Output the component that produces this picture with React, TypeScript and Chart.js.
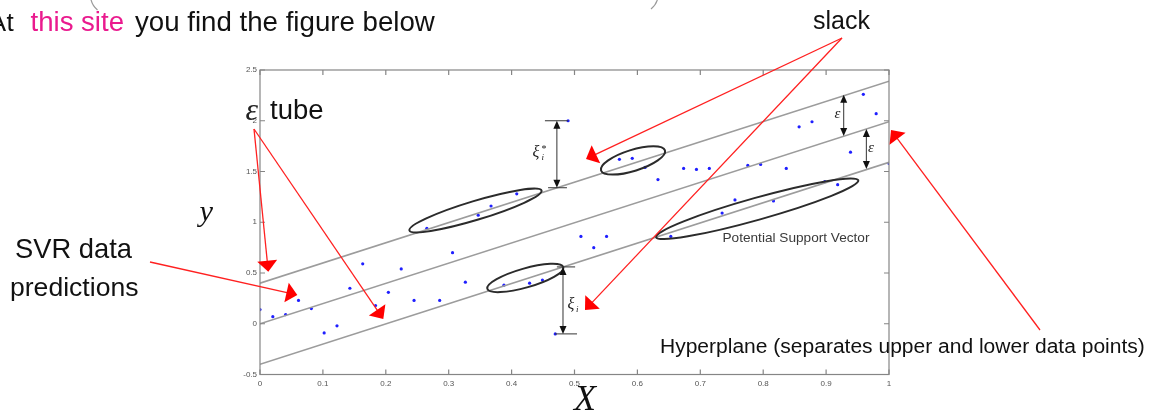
import React, { useEffect, useRef } from "react";
import { Chart, registerables } from "chart.js";

Chart.register(...registerables);

// ---- data ----
const pointX = [0, 0.0204, 0.0408, 0.0612, 0.0816, 0.102, 0.1224, 0.1429, 0.1633, 0.1837, 0.2041, 0.2245, 0.2449, 0.2653, 0.2857, 0.3061, 0.3265, 0.3469, 0.3673, 0.3878, 0.4082, 0.4286, 0.449, 0.4694, 0.4898, 0.5102, 0.5306, 0.551, 0.5714, 0.5918, 0.6122, 0.6327, 0.6531, 0.6735, 0.6939, 0.7143, 0.7347, 0.7551, 0.7755, 0.7959, 0.8163, 0.8367, 0.8571, 0.8776, 0.898, 0.9184, 0.9388, 0.9592, 0.9796, 1];
const pointY = [0.14, 0.07, 0.09, 0.23, 0.15, -0.09, -0.02, 0.35, 0.59, 0.18, 0.31, 0.54, 0.23, 0.94, 0.23, 0.70, 0.41, 1.07, 1.16, 0.38, 1.28, 0.40, 0.43, -0.10, 2.00, 0.86, 0.75, 0.86, 1.62, 1.63, 1.54, 1.42, 0.86, 1.53, 1.52, 1.53, 1.09, 1.22, 1.56, 1.57, 1.21, 1.53, 1.94, 1.99, 1.40, 1.37, 1.69, 2.26, 2.07, 1.58];

const lineX = [0, 1];
const upperY = [0.4, 2.39];
const middleY = [0, 1.99];
const lowerY = [-0.4, 1.59];

const xTickValues = [0, 0.1, 0.2, 0.3, 0.4, 0.5, 0.6, 0.7, 0.8, 0.9, 1];
const xTickLabels = ["0", "0.1", "0.2", "0.3", "0.4", "0.5", "0.6", "0.7", "0.8", "0.9", "1"];
const yTickValues = [-0.5, 0, 0.5, 1, 1.5, 2, 2.5];
const yTickLabels = ["-0.5", "0", "0.5", "1", "1.5", "2", "2.5"];

// ellipses: centre in data units, semi axes in px, angle in degrees
const ellipseCX = [0.3426, 0.593, 0.4218, 0.7905];
const ellipseCY = [1.116, 1.609, 0.451, 1.133];
const ellipseA = [69, 33.5, 39.5, 105];
const ellipseB = [9.5, 10.5, 9.5, 11];
const ellipseAngle = [-16.8, -17.4, -15.9, -15.7];

// double arrows (data units): x, y1, y2
const dimX = [0.928, 0.964, 0.472, 0.4817];
const dimY1 = [2.256, 1.918, 2.0, 0.56];
const dimY2 = [1.85, 1.525, 1.34, -0.1];

const SANS = '"Liberation Sans", Arial, sans-serif';
const SERIF = '"Liberation Serif", "DejaVu Serif", serif';

function fitText(ctx: CanvasRenderingContext2D, text: string, x: number, y: number, width: number, family: string, style: string, color: string) {
  ctx.font = `${style} 100px ${family}`;
  const w = ctx.measureText(text).width;
  const size = (100 * width) / w;
  ctx.font = `${style} ${size}px ${family}`;
  ctx.fillStyle = color;
  ctx.textAlign = "left";
  ctx.textBaseline = "alphabetic";
  ctx.fillText(text, x, y);
}

function arrowHead(ctx: CanvasRenderingContext2D, x1: number, y1: number, x2: number, y2: number, len: number, half: number) {
  const dx = x2 - x1, dy = y2 - y1;
  const L = Math.hypot(dx, dy);
  const ux = dx / L, uy = dy / L;
  const bx = x2 - ux * len, by = y2 - uy * len;
  ctx.beginPath();
  ctx.moveTo(x2, y2);
  ctx.lineTo(bx - uy * half, by + ux * half);
  ctx.lineTo(bx + uy * half, by - ux * half);
  ctx.closePath();
  ctx.fill();
}

function redArrow(ctx: CanvasRenderingContext2D, x1: number, y1: number, x2: number, y2: number) {
  ctx.save();
  ctx.strokeStyle = "#ff2020";
  ctx.fillStyle = "#ff0000";
  ctx.lineWidth = 1.3;
  const L = Math.hypot(x2 - x1, y2 - y1);
  const ux = (x2 - x1) / L, uy = (y2 - y1) / L;
  ctx.beginPath();
  ctx.moveTo(x1, y1);
  ctx.lineTo(x2 - ux * 6, y2 - uy * 6);
  ctx.stroke();
  arrowHead(ctx, x1, y1, x2, y2, 11, 10);
  ctx.restore();
}

const annotPlugin = {
  id: "annot",
  afterDraw(chart: any) {
    const ctx: CanvasRenderingContext2D = chart.ctx;
    const xs = chart.scales.x;
    const ys = chart.scales.y;
    const ca = chart.chartArea;
    const px = (v: number) => xs.getPixelForValue(v);
    const py = (v: number) => ys.getPixelForValue(v);

    ctx.save();
    // frame
    ctx.strokeStyle = "#858585";
    ctx.lineWidth = 1.2;
    ctx.strokeRect(ca.left, ca.top, ca.right - ca.left, ca.bottom - ca.top);
    ctx.beginPath();
    xTickValues.forEach((v) => {
      const x = px(v);
      ctx.moveTo(x, ca.bottom); ctx.lineTo(x, ca.bottom - 5);
      ctx.moveTo(x, ca.top); ctx.lineTo(x, ca.top + 5);
    });
    yTickValues.forEach((v) => {
      const y = py(v);
      ctx.moveTo(ca.left, y); ctx.lineTo(ca.left + 5, y);
      ctx.moveTo(ca.right, y); ctx.lineTo(ca.right - 5, y);
    });
    ctx.stroke();

    // ellipses
    ctx.strokeStyle = "#2b2b2b";
    ctx.lineWidth = 2;
    for (let i = 0; i < ellipseCX.length; i++) {
      ctx.beginPath();
      ctx.ellipse(px(ellipseCX[i]), py(ellipseCY[i]), ellipseA[i], ellipseB[i], (ellipseAngle[i] * Math.PI) / 180, 0, Math.PI * 2);
      ctx.stroke();
    }

    // dimension bars for xi
    ctx.strokeStyle = "#333";
    ctx.lineWidth = 1;
    ctx.beginPath();
    ctx.moveTo(px(0.453), py(2.0)); ctx.lineTo(px(0.49), py(2.0));
    ctx.moveTo(px(0.458), py(1.34)); ctx.lineTo(px(0.488), py(1.34));
    ctx.moveTo(px(0.469), py(-0.1)); ctx.lineTo(px(0.504), py(-0.1));
    ctx.moveTo(px(0.472), py(0.56)); ctx.lineTo(px(0.501), py(0.56));
    ctx.stroke();

    // double arrows
    ctx.fillStyle = "#111";
    for (let i = 0; i < dimX.length; i++) {
      const x = px(dimX[i]);
      const y1 = py(dimY1[i]);
      const y2 = py(dimY2[i]);
      ctx.beginPath();
      ctx.moveTo(x, y1 + 4); ctx.lineTo(x, y2 - 4);
      ctx.stroke();
      arrowHead(ctx, x, y2, x, y1, 8, 3.5);
      arrowHead(ctx, x, y1, x, y2, 8, 3.5);
    }

    // math labels
    ctx.fillStyle = "#222";
    ctx.textBaseline = "alphabetic";
    ctx.textAlign = "left";
    ctx.font = `italic 15px ${SERIF}`;
    ctx.fillText("ε", 834.5, 118);
    ctx.fillText("ε", 868, 151.5);
    ctx.font = `italic 16px ${SERIF}`;
    ctx.fillText("ξ", 532.5, 157);
    ctx.fillText("ξ", 567.5, 309);
    ctx.font = `10px ${SERIF}`;
    ctx.fillText("*", 541.5, 152);
    ctx.font = `italic 9px ${SERIF}`;
    ctx.fillText("i", 541.5, 160);
    ctx.fillText("i", 576, 312);

    // red arrows
    redArrow(ctx, 254, 129, 268.3, 271.7);
    redArrow(ctx, 254, 129, 383.3, 319);
    redArrow(ctx, 150, 262, 297.3, 295);
    redArrow(ctx, 842, 38, 586, 159);
    redArrow(ctx, 842, 38, 585, 310);
    redArrow(ctx, 1040, 330, 891, 130);

    // text annotations
    fitText(ctx, "Potential Support Vector", 722.5, 242, 147, SANS, "", "#3a3a3a");
    fitText(ctx, "Hyperplane (separates upper and lower data points)", 660, 352.5, 485, SANS, "", "#111");
    fitText(ctx, "slack", 813, 28.5, 57, SANS, "", "#111");
    fitText(ctx, "tube", 270, 119, 53.5, SANS, "", "#111");
    fitText(ctx, "ε", 245.5, 120, 12.5, SERIF, "italic", "#222");
    fitText(ctx, "SVR data", 15, 258, 117, SANS, "", "#111");
    fitText(ctx, "predictions", 10, 295.5, 128.5, SANS, "", "#111");
    fitText(ctx, "y", 199.5, 221, 13.5, SERIF, "italic", "#111");
    fitText(ctx, "X", 574, 410, 22, SERIF, "italic", "#111");

    // header line
    ctx.font = `26px ${SANS}`;
    ctx.fillStyle = "#111";
    ctx.textAlign = "right";
    ctx.fillText("A", 6, 30.5);
    ctx.textAlign = "left";
    ctx.fillText("t", 6.5, 30.5);
    fitText(ctx, "this site", 30.5, 30.5, 93.5, SANS, "", "#ea1a8e");
    fitText(ctx, "you find the figure below", 135, 30.5, 300, SANS, "", "#111");

    // fragments of text above the crop
    ctx.strokeStyle = "#9a9a9a";
    ctx.lineWidth = 1.2;
    ctx.beginPath();
    ctx.moveTo(90.5, -3);
    ctx.quadraticCurveTo(91.5, 5, 97.5, 10);
    ctx.moveTo(658, -3);
    ctx.quadraticCurveTo(657, 4, 651, 9);
    ctx.stroke();

    ctx.restore();
  },
};

export default function App() {
  const ref = useRef<HTMLCanvasElement | null>(null);

  useEffect(() => {
    document.body.style.margin = "0";
    const canvas = ref.current;
    if (!canvas) return;
    const pts = pointX.map((x, i) => ({ x, y: pointY[i] }));
    const mk = (ys: number[]) => lineX.map((x, i) => ({ x, y: ys[i] }));
    const lineStyle = {
      type: "line" as const,
      showLine: true,
      borderColor: "#9c9c9c",
      borderWidth: 1.6,
      pointRadius: 0,
      fill: false,
    };
    const chart = new Chart(canvas, {
      type: "scatter",
      data: {
        datasets: [
          { ...lineStyle, label: "upper", data: mk(upperY) },
          { ...lineStyle, label: "middle", data: mk(middleY) },
          { ...lineStyle, label: "lower", data: mk(lowerY) },
          {
            label: "data",
            data: pts,
            pointRadius: 1.6,
            pointBackgroundColor: "#1f1fff",
            pointBorderWidth: 0,
          },
        ],
      } as any,
      options: {
        animation: false,
        responsive: true,
        maintainAspectRatio: false,
        devicePixelRatio: 1,
        layout: { padding: { left: 0, right: 262, top: 70, bottom: 0 } },
        plugins: { legend: { display: false }, tooltip: { enabled: false } },
        scales: {
          x: {
            type: "linear",
            min: 0,
            max: 1,
            border: { display: false },
            grid: { display: false, drawTicks: false },
            afterBuildTicks: (s: any) => {
              s.ticks = xTickValues.map((v) => ({ value: v }));
            },
            afterFit: (s: any) => {
              s.height = 39.5;
            },
            ticks: {
              autoSkip: false,
              maxRotation: 0,
              padding: 4,
              color: "#555",
              font: { family: SANS, size: 8 },
              callback: (_v: any, i: number) => xTickLabels[i],
            },
          },
          y: {
            type: "linear",
            min: -0.5,
            max: 2.5,
            border: { display: false },
            grid: { display: false, drawTicks: false },
            afterBuildTicks: (s: any) => {
              s.ticks = yTickValues.map((v) => ({ value: v }));
            },
            afterFit: (s: any) => {
              s.width = 260;
            },
            ticks: {
              autoSkip: false,
              padding: 3,
              color: "#555",
              font: { family: SANS, size: 8 },
              callback: (_v: any, i: number) => yTickLabels[i],
            },
          },
        },
      } as any,
      plugins: [annotPlugin],
    });
    return () => chart.destroy();
  }, []);

  return (
    <div style={{ position: "absolute", left: 0, top: 0, width: 1151, height: 414, background: "#fff" }}>
      <canvas ref={ref} />
    </div>
  );
}
